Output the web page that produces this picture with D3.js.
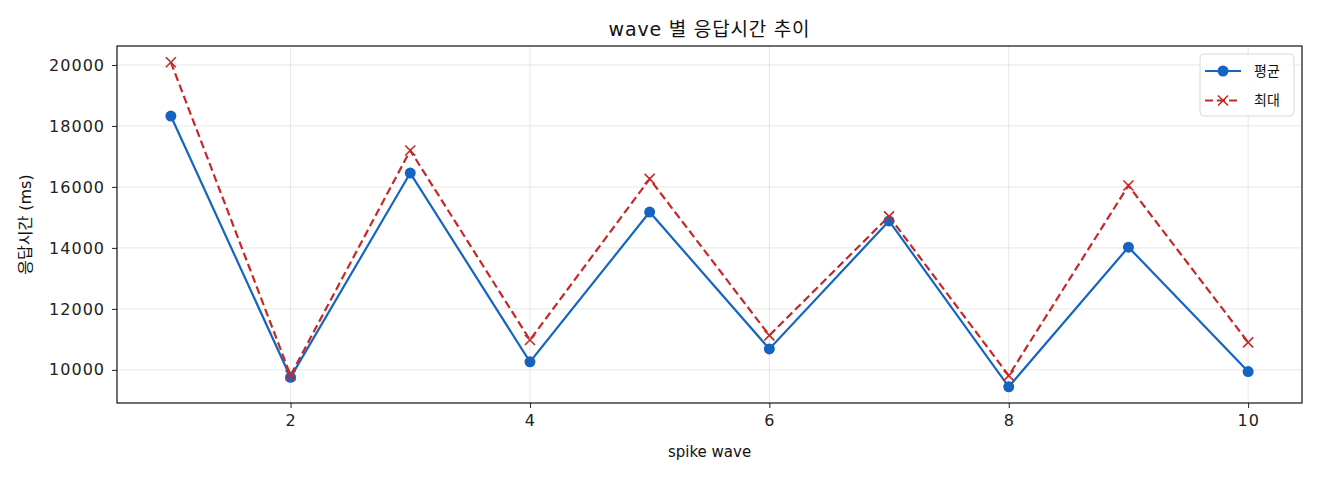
<!DOCTYPE html>
<html>
<head>
<meta charset="utf-8">
<script src="https://cdn.jsdelivr.net/npm/d3@7"></script>
<style>
    body { margin: 0; background: #fff; }
    svg { font-family: "DejaVu Sans", "Noto Sans CJK KR", sans-serif; }
</style>
</head>
<body>
<svg id="chart" width="1320" height="480"></svg>
<script>
// wave numbers and response times (ms)
const waves = [1, 2, 3, 4, 5, 6, 7, 8, 9, 10];
const avgValues = [18325, 9755, 16455, 10262, 15175, 10687, 14885, 9445, 14025, 9945];
const maxValues = [20090, 9820, 17195, 10980, 16262, 11130, 15035, 9812, 16045, 10903];
const yTicks = [10000, 12000, 14000, 16000, 18000, 20000];
const xTicks = [2, 4, 6, 8, 10];

const width = 1320, height = 480;
const margin = { top: 46, right: 18, bottom: 77, left: 117 };
const blue = '#1565C0', red = '#C62828';

const svg = d3.select('#chart');
const innerW = width - margin.left - margin.right;
const innerH = height - margin.top - margin.bottom;

// matplotlib style 5% padding
const allY = avgValues.concat(maxValues);
const yMin = d3.min(allY), yMax = d3.max(allY);
const yPad = (yMax - yMin) * 0.05;
const xPad = (d3.max(waves) - d3.min(waves)) * 0.05;

const x = d3.scaleLinear()
    .domain([d3.min(waves) - xPad, d3.max(waves) + xPad])
    .range([margin.left, margin.left + innerW]);
const y = d3.scaleLinear()
    .domain([yMin - yPad, yMax + yPad])
    .range([margin.top + innerH, margin.top]);

// grid
svg.append('g').selectAll('line.gx')
    .data(xTicks).enter().append('line')
    .attr('x1', d => x(d)).attr('x2', d => x(d))
    .attr('y1', margin.top).attr('y2', margin.top + innerH)
    .attr('stroke', '#b0b0b0').attr('stroke-opacity', 0.3).attr('stroke-width', 1);
svg.append('g').selectAll('line.gy')
    .data(yTicks).enter().append('line')
    .attr('x1', margin.left).attr('x2', margin.left + innerW)
    .attr('y1', d => y(d)).attr('y2', d => y(d))
    .attr('stroke', '#b0b0b0').attr('stroke-opacity', 0.3).attr('stroke-width', 1);

// axes
const xAxis = svg.append('g')
    .attr('transform', `translate(0,${margin.top + innerH})`)
    .call(d3.axisBottom(x).tickValues(xTicks).tickSize(5).tickPadding(7).tickSizeOuter(0));
const yAxis = svg.append('g')
    .attr('transform', `translate(${margin.left},0)`)
    .call(d3.axisLeft(y).tickValues(yTicks).tickFormat(d3.format('d'))
        .tickSize(5).tickPadding(7).tickSizeOuter(0));
[xAxis, yAxis].forEach(a => {
    a.select('.domain').remove();
    a.selectAll('text').attr('font-size', 16).attr('fill', '#222')
        .attr('letter-spacing', 1)
        .attr('font-family', '"DejaVu Sans", sans-serif');
    a.selectAll('line').attr('stroke', '#222');
});

// frame
svg.append('rect')
    .attr('x', margin.left).attr('y', margin.top)
    .attr('width', innerW).attr('height', innerH)
    .attr('fill', 'none').attr('stroke', '#111').attr('stroke-width', 1.2);

// lines
const line = vals => d3.line()
    .x((d, i) => x(waves[i]))
    .y(d => y(d))(vals);

svg.append('path')
    .attr('d', line(avgValues))
    .attr('fill', 'none').attr('stroke', blue).attr('stroke-width', 2.2);
svg.append('path')
    .attr('d', line(maxValues))
    .attr('fill', 'none').attr('stroke', red).attr('stroke-width', 2.2)
    .attr('stroke-dasharray', '8,4');

// markers
svg.append('g').selectAll('circle')
    .data(avgValues).enter().append('circle')
    .attr('cx', (d, i) => x(waves[i]))
    .attr('cy', d => y(d))
    .attr('r', 5.5)
    .attr('fill', blue);

const cross = 5;
const crossPath = (cx, cy) =>
    `M${cx - cross},${cy - cross}L${cx + cross},${cy + cross}M${cx - cross},${cy + cross}L${cx + cross},${cy - cross}`;
svg.append('g').selectAll('path.xm')
    .data(maxValues).enter().append('path')
    .attr('d', (d, i) => crossPath(x(waves[i]), y(d)))
    .attr('stroke', red).attr('stroke-width', 1.6).attr('fill', 'none');

// title and labels
svg.append('text')
    .attr('x', margin.left + innerW / 2).attr('y', 36)
    .attr('text-anchor', 'middle').attr('font-size', 19).attr('fill', '#111')
    .attr('letter-spacing', 0.8)
    .text('wave 별 응답시간 추이');
svg.append('text')
    .attr('x', margin.left + innerW / 2).attr('y', 457)
    .attr('text-anchor', 'middle').attr('font-size', 15).attr('fill', '#111')
    .text('spike wave');
svg.append('text')
    .attr('transform', `translate(31,${margin.top + innerH / 2}) rotate(-90)`)
    .attr('text-anchor', 'middle').attr('font-size', 16).attr('fill', '#111')
    .text('응답시간 (ms)');

// legend
const legend = svg.append('g');
legend.append('rect')
    .attr('x', 1200).attr('y', 54).attr('width', 94).attr('height', 62)
    .attr('rx', 4).attr('fill', '#fff').attr('fill-opacity', 0.8)
    .attr('stroke', '#d8d8d8');
const items = [
    { label: '평균', color: blue, dash: null, marker: 'circle', yy: 71 },
    { label: '최대', color: red, dash: '8,4', marker: 'x', yy: 100.5 }
];
items.forEach(it => {
    legend.append('line')
        .attr('x1', 1205).attr('x2', 1241).attr('y1', it.yy).attr('y2', it.yy)
        .attr('stroke', it.color).attr('stroke-width', 2.2)
        .attr('stroke-dasharray', it.dash);
    if (it.marker === 'circle') {
        legend.append('circle').attr('cx', 1223).attr('cy', it.yy).attr('r', 5.5).attr('fill', it.color);
    } else {
        legend.append('path')
            .attr('d', crossPath(1223, it.yy))
            .attr('stroke', it.color).attr('stroke-width', 1.6);
    }
    legend.append('text')
        .attr('x', 1254).attr('y', it.yy).attr('dy', '0.35em')
        .attr('font-size', 14).attr('fill', '#111')
        .text(it.label);
});
</script>
</body>
</html>
